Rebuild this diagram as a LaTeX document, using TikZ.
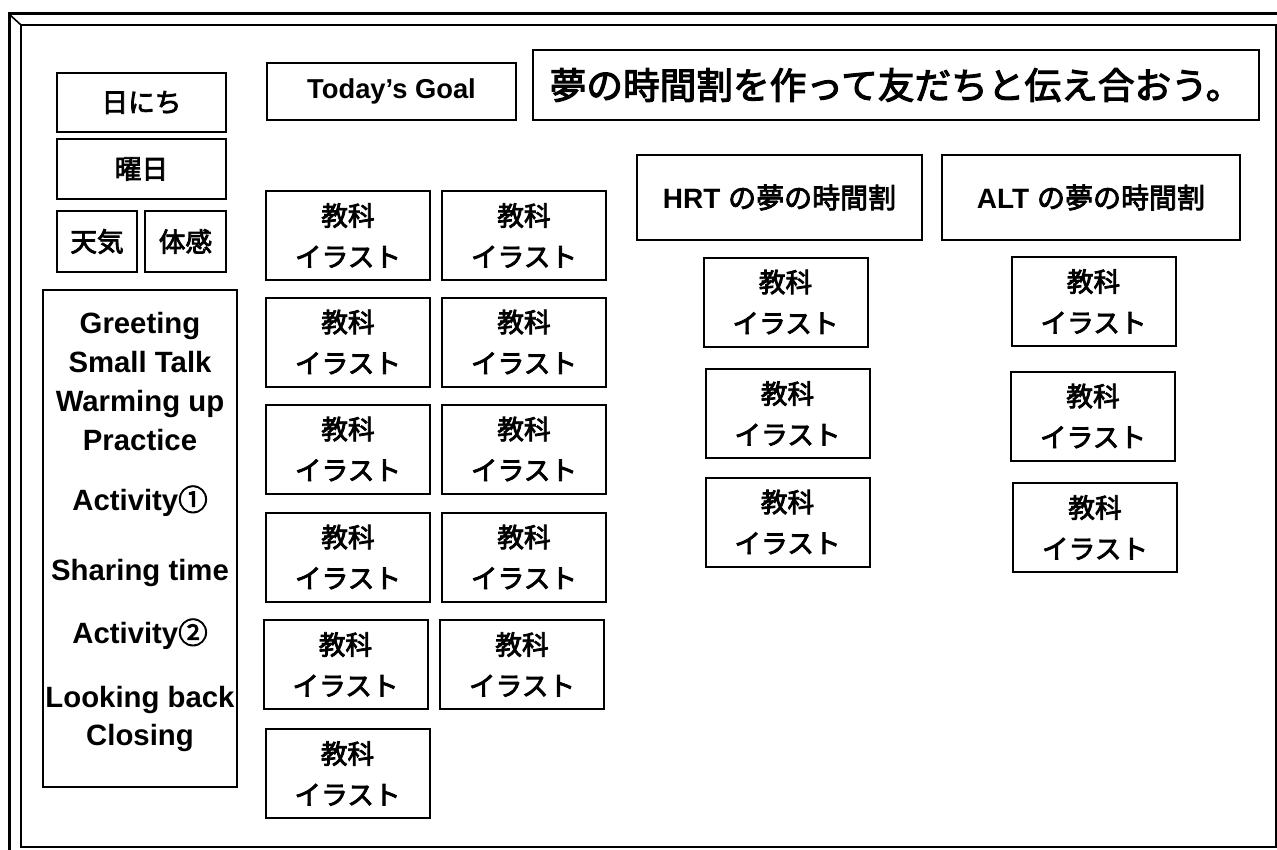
\documentclass[tikz,border=0pt]{standalone}
\usepackage{fontspec}
\setmainfont{Liberation Sans}
\newfontfamily\jp{Noto Sans CJK JP}[FakeBold=3]
\newcommand\jpl{\jp\fontsize{20}{30.75}\selectfont}
\newcommand\enl{\bfseries\fontsize{22}{26}\selectfont}
\begin{document}
\begin{tikzpicture}[x=0.75pt,y=-0.75pt,
  cadre/.style={draw,line width=1.5pt,inner sep=0pt,align=center},
  taille/.style 2 args={minimum width=#1*0.75pt,minimum height=#2*0.75pt},
  carte/.style={cadre,taille={164}{89},font=\jpl}]
\path[use as bounding box,clip] (0,0) rectangle (1277,849);
% cadre du tableau
\draw[line width=2.25pt] (9,880) -- (9,14) -- (1300,14);
\draw[line width=1.5pt] (21,25) rectangle (1276,847);
\draw[line width=1.2pt] (9,14) -- (21,25);
% colonne de gauche
\node[cadre,taille={169}{59},font=\jpl] (date) at (141.5,102.5) {日にち};
\node[cadre,taille={169}{60},font=\jpl] (jour) at (141.5,169) {曜日};
\node[cadre,taille={80}{61},font=\jpl] (meteo) at (97,241.5) {天気};
\node[cadre,taille={81}{61},font=\jpl] (ressenti) at (185.5,241.5) {体感};
\node[cadre,taille={194}{497}] (deroule) at (140,538.5) {};
\foreach \y/\t in {323/Greeting, 362/Small Talk, 401/Warming up, 440/Practice,
    500/Activity{\jp\mdseries ①}, 570/Sharing time, 633/Activity{\jp\mdseries ②},
    697/Looking back, 735/Closing}
  \node[font=\enl,anchor=base,inner sep=0pt] (e\y) at (140,\y+10.5) {\t};
% objectif du jour
\node[cadre,taille={249}{57},font=\bfseries\fontsize{20.5}{24}\selectfont] (goal) at (391.5,91.5) {Today’s Goal};
\node[cadre,taille={726}{70},font=\jp\fontsize{27.5}{32}\selectfont] (titre) at (896,85) {夢の時間割を作って友だちと伝え合おう。};
% cartes des matieres
\foreach \n/\x/\y in {1/348/235.5, 2/524/235.5, 3/348/342, 4/524/342, 5/348/449, 6/524/449,
    7/348/557, 8/524/557, 9/345.5/664.5, 10/522/664.5, 11/347.5/773.5}
  \node[carte] (k\n) at (\x,\y) {教科\\イラスト};
% emplois du temps HRT et ALT
\node[cadre,taille={285}{85},font=\bfseries\fontsize{21}{24}\selectfont] (hrt) at (779.5,197.5) {HRT {\jp\mdseries の夢の時間割}};
\node[cadre,taille={298}{85},font=\bfseries\fontsize{21}{24}\selectfont] (alt) at (1091,197.5) {ALT {\jp\mdseries の夢の時間割}};
\foreach \n/\x/\y in {1/785.5/302, 2/787.5/413.5, 3/787.5/522}
  \node[carte] (h\n) at (\x,\y) {教科\\イラスト};
\foreach \n/\x/\y in {1/1093.5/301.5, 2/1093/416, 3/1095/527.5}
  \node[carte] (a\n) at (\x,\y) {教科\\イラスト};
\end{tikzpicture}
\end{document}
